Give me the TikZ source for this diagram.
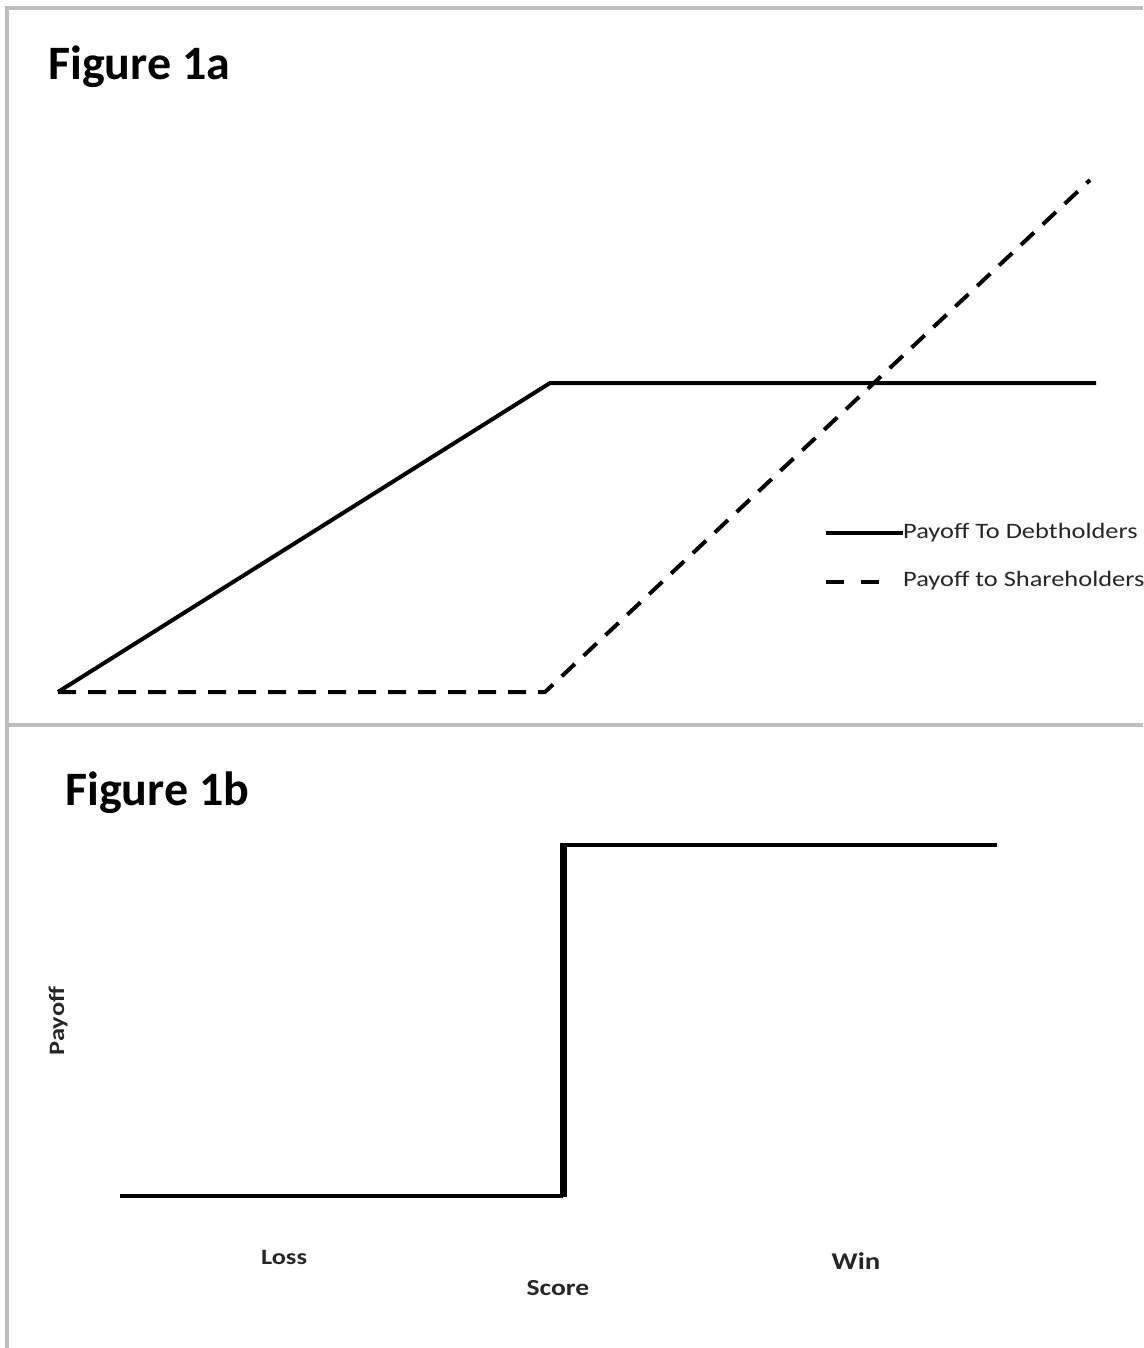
\documentclass[tikz,border=0pt]{standalone}
\usepackage{fontspec}
\setmainfont{Carlito}
\usetikzlibrary{positioning, calc}
\definecolor{frameGray}{HTML}{BEBEBE}
\newcommand{\wide}[1]{\scalebox{1.2}[1]{#1}}

\begin{document}
\begin{tikzpicture}[
    x=1pt, y=-1pt,
    frame/.style={frameGray, line width=4.5pt},
    title/.style={font=\fontsize{48}{52}\selectfont\bfseries, anchor=base west, inner sep=0pt},
    curve/.style={line width=4pt, line join=round},
    dashcurve/.style={curve, dash pattern=on 18pt off 12pt},
    legtext/.style={font=\fontsize{22}{24}\selectfont, anchor=west, inner sep=0pt, text=black!85},
    axis/.style={font=\fontsize{22}{24}\selectfont\bfseries, inner sep=0pt, text=black!85}
  ]
  \useasboundingbox (0,0) rectangle (1143,1348);

  % Panel frame
  \draw[frame] (7,1348) -- (7,8) -- (1143,8);
  \draw[frame] (5,725) -- (1143,725);

  % Figure 1a
  \node[title] (ta) at (48,80) {Figure 1a};
  \coordinate (a0) at (58,692);
  \coordinate (akink) at (550,383);
  \coordinate (aflat) at (1096,383);
  \coordinate (sflat) at (545,692);
  \coordinate (stop) at (1090,180);
  \draw[curve] (a0) -- (akink) -- (aflat);
  \draw[dashcurve] (a0) -- (sflat) -- (stop);

  % Legend
  \node[legtext] (ldebt) at (903,533) {\wide{Payoff To Debtholders}};
  \node[legtext] (lshare) at (903,581) {\wide{Payoff to Shareholders}};
  \coordinate (ld0) at (826,533);
  \coordinate (ls0) at (826,582);
  \draw[curve] (ld0) -- (ldebt.west);
  \draw[curve, dash pattern=on 18pt off 17pt] (ls0) -- ++(54,0) coordinate (ls1);

  % Figure 1b
  \node[title] (tb) at (65,805) {Figure 1b};
  \coordinate (b0) at (120,1196);
  \coordinate (bstep) at (563,1196);
  \coordinate (btop) at (563,845);
  \coordinate (bend) at (997,845);
  \draw[curve] (b0) -- (bstep);
  \draw[line width=7pt] ($(bstep)+(0,1)$) -- (btop);
  \draw[curve] ($(btop)+(-3,0)$) -- (bend);

  % Axis labels
  \node[axis, rotate=90] (ypay) at (58,1021) {\wide{Payoff}};
  \node[axis] (xloss) at (284,1257) {\wide{Loss}};
  \node[axis, font=\fontsize{24}{26}\selectfont\bfseries] (xwin) at (856,1261) {\wide{Win}};
  \node[axis, font=\fontsize{23}{25}\selectfont\bfseries] (xscore) at (558,1288) {\wide{Score}};

\end{tikzpicture}
\end{document}
